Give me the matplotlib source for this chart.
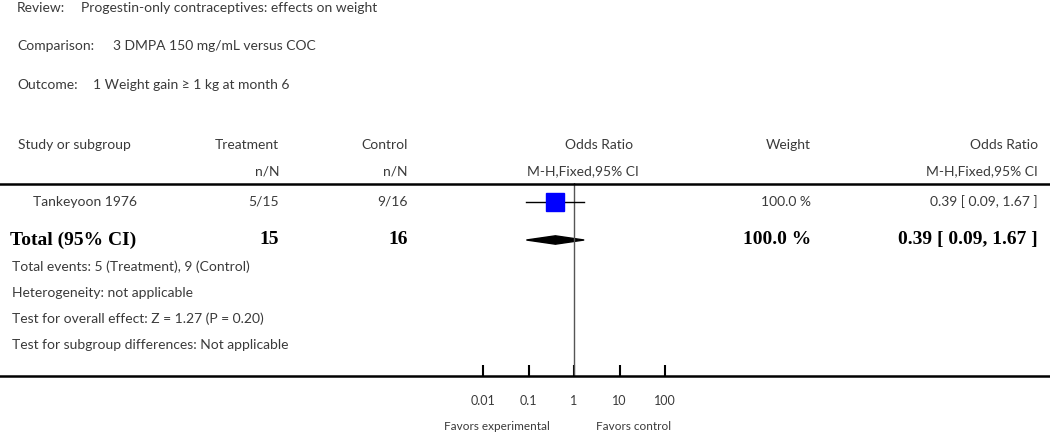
import matplotlib
matplotlib.use("Agg")
import matplotlib.pyplot as plt
from matplotlib.lines import Line2D
from matplotlib.patches import Polygon
import numpy as np

# header info
review = "Progestin-only contraceptives: effects on weight"
comparison = "3 DMPA 150 mg/mL versus COC"
outcome = "1 Weight gain \u2265 1 kg at month 6"

# study data
studies = ["Tankeyoon 1976"]
treat_n = ["5/15"]
ctrl_n = ["9/16"]
weights = ["100.0 %"]
odds = [0.39]
ci_lo = [0.09]
ci_hi = [1.67]

# totals
total_treat = 15
total_ctrl = 16
total_weight = "100.0 %"
total_or = 0.39
total_lo = 0.09
total_hi = 1.67

footer = ["Total events: 5 (Treatment), 9 (Control)",
          "Heterogeneity: not applicable",
          "Test for overall effect: Z = 1.27 (P = 0.20)",
          "Test for subgroup differences: Not applicable"]

tick_vals = [0.01, 0.1, 1, 10, 100]
tick_labels = ["0.01", "0.1", "1", "10", "100"]

W, H = 1050, 433
fig = plt.figure(figsize=(W / 100, H / 100), dpi=100)
plt.rcParams['font.family'] = ['Lato', 'DejaVu Sans']

TXT = "#3a3a3a"
FS = 10


def px(x, y):
    return x / W, 1 - y / H


def t(x, y, s, ha="left", **kw):
    kw.setdefault("color", TXT)
    kw.setdefault("fontsize", FS)
    fig.text(*px(x, y), s, ha=ha, va="center", **kw)


def bold(x, y, s, ha="left"):
    t(x, y, s, ha=ha, family="Liberation Serif", fontweight="bold",
      fontsize=14, color="black")


# title block
t(17, 8, "Review:")
t(81, 8, review)
t(17, 46, "Comparison:")
t(113, 46, comparison)
t(17, 85, "Outcome:")
t(93, 85, outcome)

# column headers
t(18, 145, "Study or subgroup")
t(279, 145, "Treatment", ha="right")
t(408, 145, "Control", ha="right")
t(633, 145, "Odds Ratio", ha="right")
t(811, 145, "Weight", ha="right")
t(1038, 145, "Odds Ratio", ha="right")
t(279, 171, "n/N", ha="right")
t(408, 171, "n/N", ha="right")
t(639, 171, "M-H,Fixed,95% CI", ha="right")
t(1038, 171, "M-H,Fixed,95% CI", ha="right")

# rules
fig.add_artist(Line2D([0, 1], [px(0, 184)[1]] * 2, color="black", lw=1.8))
fig.add_artist(Line2D([0, 1], [px(0, 376)[1]] * 2, color="black", lw=1.8))

# study rows
row_y0, row_dy = 202, 38
for i, name in enumerate(studies):
    y = row_y0 + i * row_dy
    t(33, y, name)
    t(279, y, treat_n[i], ha="right")
    t(408, y, ctrl_n[i], ha="right")
    t(811, y, weights[i], ha="right")
    t(1038, y, "%.2f [ %.2f, %.2f ]" % (odds[i], ci_lo[i], ci_hi[i]), ha="right")

ty = row_y0 + len(studies) * row_dy
bold(10, ty, "Total (95% CI)")
bold(279, ty, str(total_treat), ha="right")
bold(408, ty, str(total_ctrl), ha="right")
bold(811, ty, total_weight, ha="right")
bold(1038, ty, "%.2f [ %.2f, %.2f ]" % (total_or, total_lo, total_hi), ha="right")

for k, line in enumerate(footer):
    t(12, 267 + k * 26, line)

# forest axes
x0, x1 = 483, 665
ytop, ybot = 183, 376
l, b = px(x0, ybot)
r, tp = px(x1, ytop)
ax = fig.add_axes([l, b, r - l, tp - b])
ax.set_xscale("log")
ax.set_xlim(tick_vals[0], tick_vals[-1])
ax.set_ylim((ybot - row_y0) / row_dy, (ytop - row_y0) / row_dy)
ax.patch.set_alpha(0)
for s in ax.spines.values():
    s.set_visible(False)
ax.set_yticks([])
ax.set_xticks(tick_vals)
ax.set_xticklabels(tick_labels)
ax.minorticks_off()
ax.tick_params(axis="x", direction="in", length=8, width=1.5, pad=14,
               labelsize=9, labelcolor=TXT)

ax.axvline(1, color="#555555", lw=1)

for i in range(len(studies)):
    ax.plot([ci_lo[i], ci_hi[i]], [i, i], color="black", lw=1, clip_on=False)
    ax.plot(odds[i], i, marker="s", ms=12.5, mfc="#0000ff", mec="#0000ff",
            clip_on=False)

dy = 0.11
iy = len(studies)
ax.add_patch(Polygon([(total_lo, iy), (total_or, iy - dy), (total_hi, iy),
                      (total_or, iy + dy)], closed=True, color="black",
                     clip_on=False))

t(497, 426, "Favors experimental", ha="center", fontsize=8.5)
t(634, 426, "Favors control", ha="center", fontsize=8.5)

fig.savefig("out.png", dpi=100)
